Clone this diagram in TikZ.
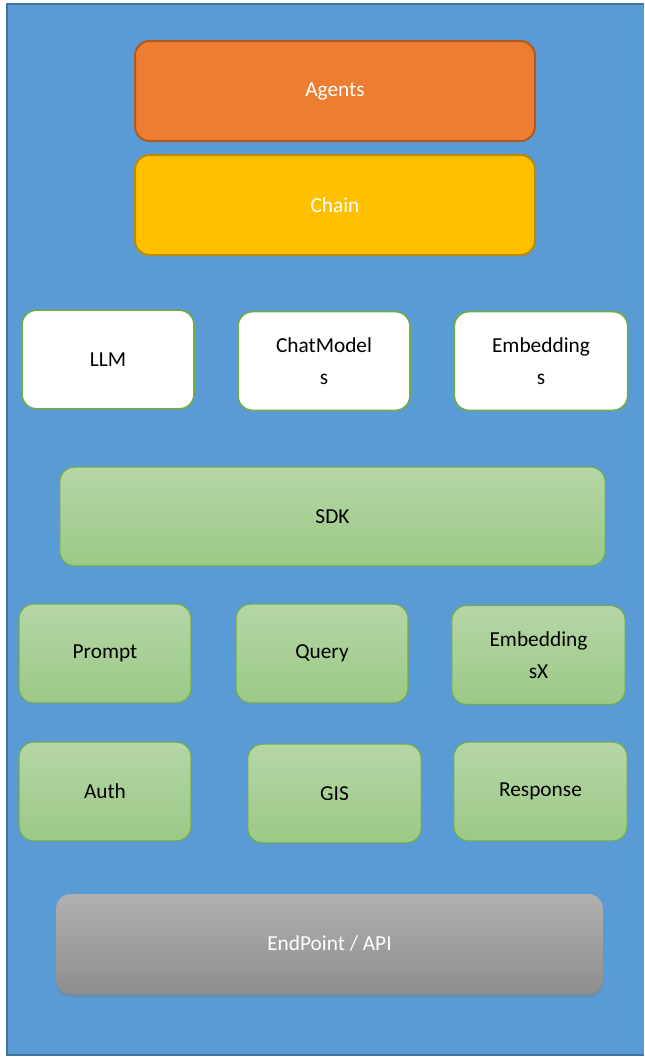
\documentclass[tikz,border=0pt]{standalone}
\usepackage{fontspec}
\setmainfont{Carlito}
\usetikzlibrary{shadows}
\definecolor{bgblue}{HTML}{5B9BD5}
\definecolor{bgline}{HTML}{41719C}
\definecolor{agentfill}{HTML}{ED7D31}
\definecolor{agentline}{HTML}{AE5A21}
\definecolor{chainfill}{HTML}{FFC000}
\definecolor{chainline}{HTML}{BC8C00}
\definecolor{boxline}{HTML}{70AD47}
\definecolor{greentop}{HTML}{B5D6A6}
\definecolor{greenbot}{HTML}{9CC987}
\definecolor{greytop}{HTML}{B0B0B0}
\definecolor{greybot}{HTML}{8E8E8E}

\begin{document}
\begin{tikzpicture}[x=0.75pt,y=-0.75pt,
  box/.style={rectangle, rounded corners=11pt, align=center, font=\fontsize{16}{24}\selectfont},
  topbox/.style={box, line width=1.5pt, text=white, minimum width=300pt, minimum height=75pt},
  modelbox/.style={box, draw=boxline, line width=1.2pt, fill=white, minimum width=129pt, minimum height=74pt},
  greenbox/.style={box, draw=boxline, line width=0.8pt, top color=greentop, bottom color=greenbot, minimum height=74pt},
  apibox/.style={box, text=white, top color=greytop, bottom color=greybot, minimum width=410pt, minimum height=75pt,
    drop shadow={shadow xshift=0pt, shadow yshift=-2.5pt, opacity=0.45}}]
\useasboundingbox (0,0) rectangle (644,1057);
% background panel, open on the right
\fill[bgblue] (7,4) rectangle (644,1055);
\draw[bgline, line width=1.5pt] (644,4) -- (7,4) -- (7,1055) -- (644,1055);

\node[topbox, fill=agentfill, draw=agentline] (agents) at (335,91) {Agents};
\node[topbox, fill=chainfill, draw=chainline] (chain) at (335,205) {Chain};

\node[modelbox] (llm) at (108,359.5) {LLM};
\node[modelbox] (chat) at (324,361) {ChatModel\\s};
\node[modelbox, minimum width=130pt] (emb) at (541,361) {Embedding\\s};

\node[greenbox, minimum width=409pt] (sdk) at (332.5,516.5) {SDK};

\node[greenbox, minimum width=129pt] (prompt) at (105,653.5) {Prompt};
\node[greenbox, minimum width=129pt] (query) at (322,653.5) {Query};
\node[greenbox, minimum width=130pt] (embx) at (538.5,655) {Embedding\\sX};

\node[greenbox, minimum width=129pt] (auth) at (105,791.5) {Auth};
\node[greenbox, minimum width=130pt] (gis) at (334.5,793.5) {GIS};
\node[greenbox, minimum width=130pt] (resp) at (540.5,791.5) {Response};

\node[apibox] (api) at (329.5,944) {EndPoint / API};
\end{tikzpicture}
\end{document}
